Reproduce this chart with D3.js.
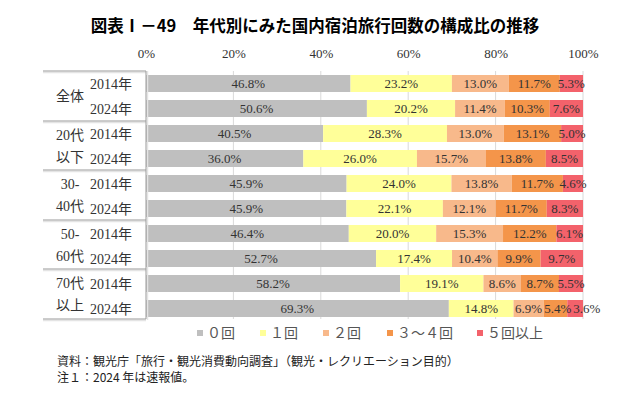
<!DOCTYPE html>
<html lang="ja">
<head>
<meta charset="utf-8" />
<title>年代別にみた国内宿泊旅行回数の構成比の推移</title>
<script src="https://cdn.jsdelivr.net/npm/d3@7"></script>
<style>
  body { margin: 0; background: #fff; }
  .serif { font-family: "Liberation Serif", "Noto Sans CJK JP", serif; }
  .jp { font-family: "Noto Sans CJK JP", sans-serif; }
</style>
</head>
<body>
<div id="chart"></div>
<script>
// data
var groups = ["全体", "20代\n以下", "30-\n40代", "50-\n60代", "70代\n以上"];
var years = ["2014年", "2024年"];
var seriesNames = ["０回", "１回", "２回", "３～４回", "５回以上"];
var colors = ["#bfbfbf", "#ffff99", "#f8b98b", "#f4954a", "#f3626b"];
var xTicks = [0, 20, 40, 60, 80, 100];
var values = [
  [46.8, 23.2, 13.0, 11.7, 5.3],
  [50.6, 20.2, 11.4, 10.3, 7.6],
  [40.5, 28.3, 13.0, 13.1, 5.0],
  [36.0, 26.0, 15.7, 13.8, 8.5],
  [45.9, 24.0, 13.8, 11.7, 4.6],
  [45.9, 22.1, 12.1, 11.7, 8.3],
  [46.4, 20.0, 15.3, 12.2, 6.1],
  [52.7, 17.4, 10.4, 9.9, 9.7],
  [58.2, 19.1, 8.6, 8.7, 5.5],
  [69.3, 14.8, 6.9, 5.4, 3.6]
];

var width = 621, height = 393;
var svg = d3.select("#chart").append("svg")
  .attr("width", width).attr("height", height);

// title
svg.append("text").attr("class", "jp")
  .attr("x", 315).attr("y", 32)
  .attr("text-anchor", "middle")
  .attr("font-size", 16.5).attr("font-weight", "bold")
  .text("図表Ⅰ－49　年代別にみた国内宿泊旅行回数の構成比の推移");

var rows = [];
values.forEach(function (v, i) {
  rows.push({ id: i, group: Math.floor(i / 2), year: years[i % 2], vals: v });
});

var x = d3.scaleLinear().domain([0, 100]).range([146, 583]);
var y = d3.scaleBand().domain(d3.range(rows.length)).range([71, 321]).paddingInner(0.32).paddingOuter(0.16);

// gridlines
svg.append("g").selectAll("line").data(xTicks.slice(1)).enter().append("line")
  .attr("x1", function (d) { return x(d); }).attr("x2", function (d) { return x(d); })
  .attr("y1", 71).attr("y2", 319)
  .attr("stroke", "#d9d9d9").attr("stroke-width", 1);

// axis labels on top
var axis = svg.append("g").attr("transform", "translate(0,58)")
  .call(d3.axisTop(x).tickValues(xTicks).tickSize(0).tickPadding(0).tickFormat(function (d) { return d + "%"; }));
axis.select(".domain").remove();
axis.selectAll("text").attr("class", "serif").attr("font-size", 13).attr("fill", "#333");

// bars
rows.forEach(function (r) {
  var total = d3.sum(r.vals);
  var acc = 0;
  var segs = r.vals.map(function (v, k) {
    var s = { k: k, v: v, x0: acc / total * 100, x1: (acc + v) / total * 100 };
    acc += v;
    return s;
  });
  var g = svg.append("g");
  g.selectAll("rect").data(segs).enter().append("rect")
    .attr("x", function (d) { return x(d.x0); })
    .attr("width", function (d) { return x(d.x1) - x(d.x0); })
    .attr("y", y(r.id)).attr("height", y.bandwidth())
    .attr("fill", function (d) { return colors[d.k]; });
  var labels = g.selectAll("text").data(segs).enter().append("text")
    .attr("class", "serif")
    .attr("y", y(r.id) + y.bandwidth() / 2 + 4.5)
    .attr("font-size", 13).attr("fill", "#333")
    .text(function (d) { return d.v.toFixed(1) + "%"; });
  // centre the labels, push one right if it runs into the one before
  var prevEnd = -Infinity;
  labels.each(function (d) {
    var w = this.getComputedTextLength();
    var left = (x(d.x0) + x(d.x1)) / 2 - w / 2;
    if (left < prevEnd + 2) left = prevEnd + 2;
    d3.select(this).attr("x", left);
    prevEnd = left + w;
  });
});

// label table
var tbl = svg.append("g");
var seps = [71, 121, 170, 220, 269, 319];
seps.forEach(function (yy) {
  tbl.append("line").attr("x1", 43).attr("x2", 146).attr("y1", yy + 1.5).attr("y2", yy + 1.5)
    .attr("stroke", "#e4e4e4").attr("stroke-width", 1.5);
  tbl.append("line").attr("x1", 43).attr("x2", 146).attr("y1", yy).attr("y2", yy)
    .attr("stroke", "#999").attr("stroke-width", 1);
});
tbl.append("line").attr("x1", 147.5).attr("x2", 147.5).attr("y1", 71).attr("y2", 320)
  .attr("stroke", "#e4e4e4").attr("stroke-width", 1.5);
tbl.append("line").attr("x1", 146).attr("x2", 146).attr("y1", 71).attr("y2", 319)
  .attr("stroke", "#999").attr("stroke-width", 1);

rows.forEach(function (r) {
  tbl.append("text").attr("class", "serif")
    .attr("x", 90).attr("y", y(r.id) + y.bandwidth() / 2 + 5)
    .attr("font-size", 14).attr("fill", "#333")
    .text(r.year);
});
groups.forEach(function (gname, i) {
  var cy = (seps[i] + seps[i + 1]) / 2;
  var lines = gname.split("\n");
  var t = tbl.append("text").attr("class", "serif")
    .attr("text-anchor", "middle").attr("font-size", 14).attr("fill", "#333");
  lines.forEach(function (ln, j) {
    t.append("tspan").attr("x", 70)
      .attr("y", cy + 5 + (j - (lines.length - 1) / 2) * 22)
      .text(ln);
  });
});

// legend
var legX = [197, 260, 323, 387, 477];
var leg = svg.append("g");
seriesNames.forEach(function (n, i) {
  leg.append("rect").attr("x", legX[i]).attr("y", 330).attr("width", 6).attr("height", 6)
    .attr("fill", colors[i]);
  leg.append("text").attr("class", "jp")
    .attr("x", legX[i] + 10).attr("y", 338)
    .attr("font-size", 14).attr("fill", "#555")
    .text(n);
});

// notes
svg.append("text").attr("class", "jp").attr("x", 57).attr("y", 366)
  .attr("font-size", 12).attr("fill", "#222")
  .text("資料：観光庁「旅行・観光消費動向調査」（観光・レクリエーション目的）");
svg.append("text").attr("class", "jp").attr("x", 57).attr("y", 382)
  .attr("font-size", 12).attr("fill", "#222")
  .text("注１：2024 年は速報値。");
</script>
</body>
</html>
